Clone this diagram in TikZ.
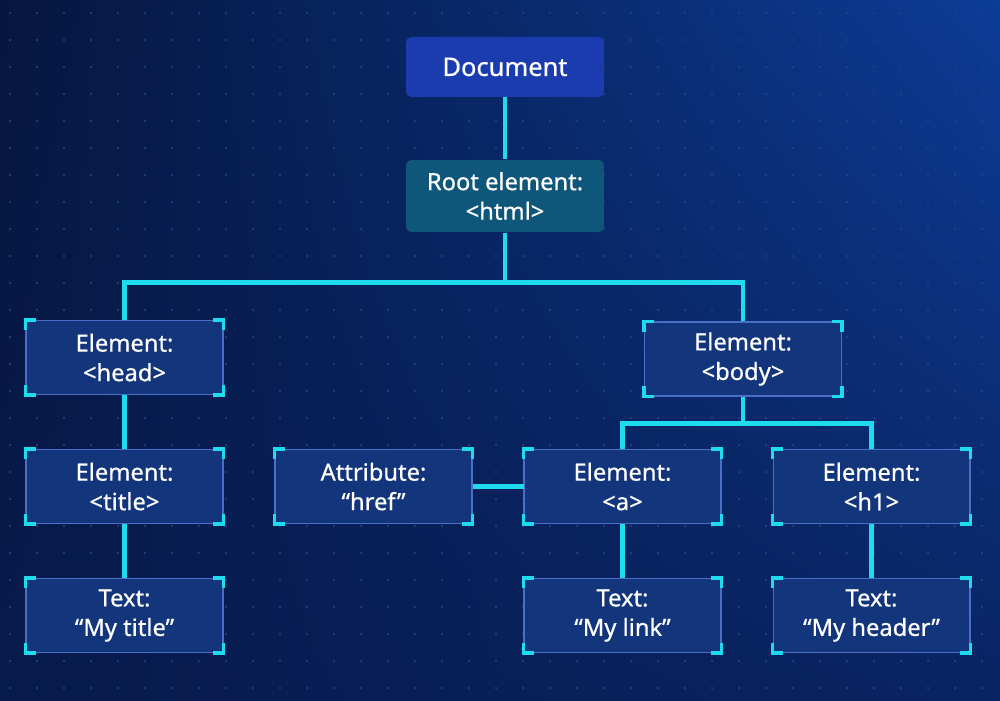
\documentclass[tikz,border=0pt]{standalone}
\usepackage{fontspec}
\setmainfont{Noto Sans}
\newfontfamily\boxfont{Noto Sans}[FakeBold=0.6]
\usetikzlibrary{positioning,shadings}

\definecolor{bgtl}{HTML}{06163F}
\definecolor{bgtr}{HTML}{0C3C96}
\definecolor{bgbl}{HTML}{071A4C}
\definecolor{bgbr}{HTML}{0A2462}
\definecolor{dotc}{HTML}{2A4680}
\definecolor{boxfill}{HTML}{13357C}
\definecolor{boxline}{HTML}{4A6FC8}
\definecolor{linkcyan}{HTML}{1EDCEE}
\definecolor{docfill}{HTML}{1A3CAE}
\definecolor{rootfill}{HTML}{0F577A}

\tikzset{
    box/.style = {draw = boxline, line width = 0.6pt, fill = boxfill, text = white,
                  minimum width = 3.94cm, minimum height = 1.48cm, inner sep = 0pt,
                  align = center, font = \boxfont\fontsize{13.5}{16.8}\selectfont},
    topbox/.style = {box, draw = none, rounded corners = 3pt, minimum width = 3.96cm},
    link/.style = {draw = linkcyan, line width = 2.7pt},
    corner/.style = {draw = linkcyan, line width = 2pt, line cap = rect}
}

\begin{document}
\begin{tikzpicture}[x = 0.02cm, y = -0.02cm]
        \shade[upper left = bgtl, upper right = bgtr, lower left = bgbl, lower right = bgbr]
            (0,0) rectangle (1000,700);
        \useasboundingbox (0,0) rectangle (1000,700);
        \foreach \i in {0,...,36}
            \foreach \j in {0,...,25}
                \fill[dotc] ({10+27*\i},{13+27*\j}) circle (0.7pt);

        % top of the tree
        \node[topbox, fill = rootfill, minimum height = 1.44cm] (root) at (505,196) {Root element:\\<html>};
        \node[topbox, fill = docfill, minimum height = 1.2cm, above = 1.24cm of root,
              font = \boxfont\fontsize{14.5}{17}\selectfont] (doc) {Document};

        % lower two rows
        \matrix [row sep = 1.08cm, column sep = 1.02cm] at (498,551){
            \node[box] (title) {Element:\\<title>}; & \node[box] (attr) {Attribute:\\“href”}; &
            \node[box] (a) {Element:\\<a>}; & \node[box] (h1) {Element:\\<h1>}; \\
            \node[box] (mytitle) {Text:\\“My title”}; & &
            \node[box] (mylink) {Text:\\“My link”}; & \node[box] (myheader) {Text:\\“My header”}; \\
        };
        \node[box, above = 1.08cm of title] (head) {Element:\\<head>};
        \node[box] (body) at (743,359) {Element:\\<body>};

        % connectors
        \draw[link] (doc) -- (root);
        \draw[link] (root.south) -- ++(0,-1cm) coordinate (fork);
        \draw[link] (head.north) |- (fork) -| (body.north);
        \draw[link] (body.south) -- ++(0,-0.54cm) coordinate (bfork);
        \draw[link] (a.north) |- (bfork) -| (h1.north);
        \draw[link] (head) -- (title);
        \draw[link] (title) -- (mytitle);
        \draw[link] (attr) -- (a);
        \draw[link] (a) -- (mylink);
        \draw[link] (h1) -- (myheader);

        % corner marks
        \foreach \n in {head,body,title,attr,a,h1,mytitle,mylink,myheader}{
            \draw[corner] ([yshift=-0.17cm]\n.north west) -- (\n.north west) -- ([xshift=0.17cm]\n.north west);
            \draw[corner] ([yshift=-0.17cm]\n.north east) -- (\n.north east) -- ([xshift=-0.17cm]\n.north east);
            \draw[corner] ([yshift=0.17cm]\n.south west) -- (\n.south west) -- ([xshift=0.17cm]\n.south west);
            \draw[corner] ([yshift=0.17cm]\n.south east) -- (\n.south east) -- ([xshift=-0.17cm]\n.south east);
        }
    \end{tikzpicture}
\end{document}
